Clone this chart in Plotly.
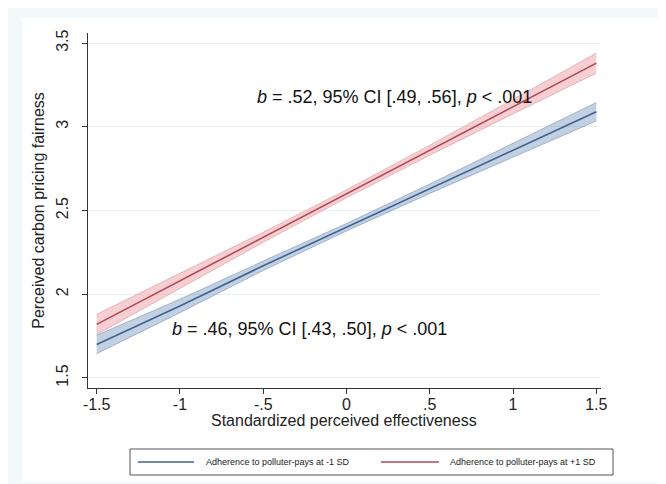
import plotly.graph_objects as go

# ---- data ----
x_vals = [-1.5, -1.0, -0.5, 0.0, 0.5, 1.0, 1.5]

low_pred = [1.70, 1.93, 2.17, 2.40, 2.63, 2.86, 3.09]      # -1 SD
low_lo   = [1.645, 1.89, 2.142, 2.378, 2.602, 2.82, 3.035]
low_hi   = [1.755, 1.97, 2.198, 2.422, 2.658, 2.90, 3.145]

high_pred = [1.82, 2.08, 2.34, 2.60, 2.86, 3.12, 3.38]     # +1 SD
high_lo   = [1.76, 2.037, 2.31, 2.576, 2.83, 3.077, 3.32]
high_hi   = [1.88, 2.123, 2.37, 2.624, 2.89, 3.163, 3.44]

series_names = ["Adherence to polluter-pays at -1 SD", "Adherence to polluter-pays at +1 SD"]
x_ticks = [-1.5, -1, -0.5, 0, 0.5, 1, 1.5]
x_tick_labels = ["-1.5", "-1", "-.5", "0", ".5", "1", "1.5"]
y_ticks = [1.5, 2, 2.5, 3, 3.5]
y_tick_labels = ["1.5", "2", "2.5", "3", "3.5"]
annot_texts = ["<i>b</i> = .52, 95% CI [.49, .56], <i>p</i> < .001",
               "<i>b</i> = .46, 95% CI [.43, .50], <i>p</i> < .001"]
annot_x = [0.29, -0.22]
annot_y = [3.18, 1.79]
x_title = "Standardized perceived effectiveness"
y_title = "Perceived carbon pricing fairness"

BLUE = "#3f6390"
BLUE_FILL = "rgba(120,150,190,0.45)"
BLUE_EDGE = "rgba(110,140,180,0.7)"
RED = "#b04a55"
RED_FILL = "rgba(235,160,165,0.5)"
RED_EDGE = "rgba(225,140,148,0.7)"
FONT = "Liberation Sans, Arial, sans-serif"

fig = go.Figure()

for lo, hi, fillc, edgec in [(low_lo, low_hi, BLUE_FILL, BLUE_EDGE),
                             (high_lo, high_hi, RED_FILL, RED_EDGE)]:
    fig.add_trace(go.Scatter(x=x_vals, y=lo, mode="lines",
                             line=dict(color=edgec, width=0.8),
                             showlegend=False, hoverinfo="skip"))
    fig.add_trace(go.Scatter(x=x_vals, y=hi, mode="lines", fill="tonexty",
                             fillcolor=fillc, line=dict(color=edgec, width=0.8),
                             showlegend=False, hoverinfo="skip"))

fig.add_trace(go.Scatter(x=x_vals, y=low_pred, mode="lines", name=series_names[0],
                         line=dict(color=BLUE, width=1.6), showlegend=False))
fig.add_trace(go.Scatter(x=x_vals, y=high_pred, mode="lines", name=series_names[1],
                         line=dict(color=RED, width=1.6), showlegend=False))

for t, ax_, ay_ in zip(annot_texts, annot_x, annot_y):
    fig.add_annotation(x=ax_, y=ay_, text=t, showarrow=False,
                       font=dict(family=FONT, size=18, color="#111111"))

# ---- manual legend (Stata style box) ----
L, T = 80, 25
W, H = 513, 355
def px(xp): return (xp - L) / W
def py(yp): return (T + H - yp) / H

shapes = []
shapes.append(dict(type="rect", xref="paper", yref="paper", layer="below",
                   x0=px(14), x1=px(666), y0=py(474), y1=py(10),
                   fillcolor="white", line=dict(width=0)))
shapes.append(dict(type="rect", xref="paper", yref="paper",
                   x0=px(122), x1=px(605), y0=py(467), y1=py(441),
                   fillcolor="rgba(0,0,0,0)", line=dict(color="#555555", width=1)))
yc = py(454)
shapes.append(dict(type="line", xref="paper", yref="paper",
                   x0=px(130), x1=px(186), y0=yc, y1=yc, line=dict(color=BLUE, width=1.6)))
shapes.append(dict(type="line", xref="paper", yref="paper",
                   x0=px(373), x1=px(431), y0=yc, y1=yc, line=dict(color=RED, width=1.6)))
fig.update_layout(shapes=shapes)
fig.add_annotation(xref="paper", yref="paper", x=px(196), y=yc, xanchor="left",
                   yanchor="middle", text=series_names[0], showarrow=False,
                   font=dict(family=FONT, size=9, color="#222222"))
fig.add_annotation(xref="paper", yref="paper", x=px(440), y=yc, xanchor="left",
                   yanchor="middle", text=series_names[1], showarrow=False,
                   font=dict(family=FONT, size=9, color="#222222"))

# x-axis title placed tight under the tick labels, as in the reference
fig.add_annotation(xref="paper", yref="paper", x=px(336), y=py(412),
                   xanchor="center", yanchor="middle", text=x_title, showarrow=False,
                   font=dict(family=FONT, size=16, color="#222222"))

fig.update_layout(
    width=666, height=484,
    margin=dict(l=L, r=666 - L - W, t=T, b=484 - T - H),
    paper_bgcolor="#f2f9fb", plot_bgcolor="white",
    font=dict(family=FONT, size=16, color="#222222"),
    showlegend=False,
)
fig.update_xaxes(range=[-1.552, 1.528], tickvals=x_ticks, ticktext=x_tick_labels,
                 showgrid=False, zeroline=False, showline=True, linecolor="#333333",
                 linewidth=1, ticks="outside", ticklen=5, tickcolor="#333333",
                 tickfont=dict(size=16), ticklabelstandoff=-3)
fig.update_yaxes(range=[1.44, 3.56], tickvals=y_ticks, ticktext=y_tick_labels,
                 showgrid=True, gridcolor="#e6eff2", gridwidth=1, zeroline=False,
                 showline=True, linecolor="#333333", linewidth=1,
                 ticks="outside", ticklen=5, tickcolor="#333333", tickangle=-90,
                 tickfont=dict(size=16), ticklabelstandoff=8,
                 title=dict(text=y_title, font=dict(size=16), standoff=4))

fig.write_html("out.html")
